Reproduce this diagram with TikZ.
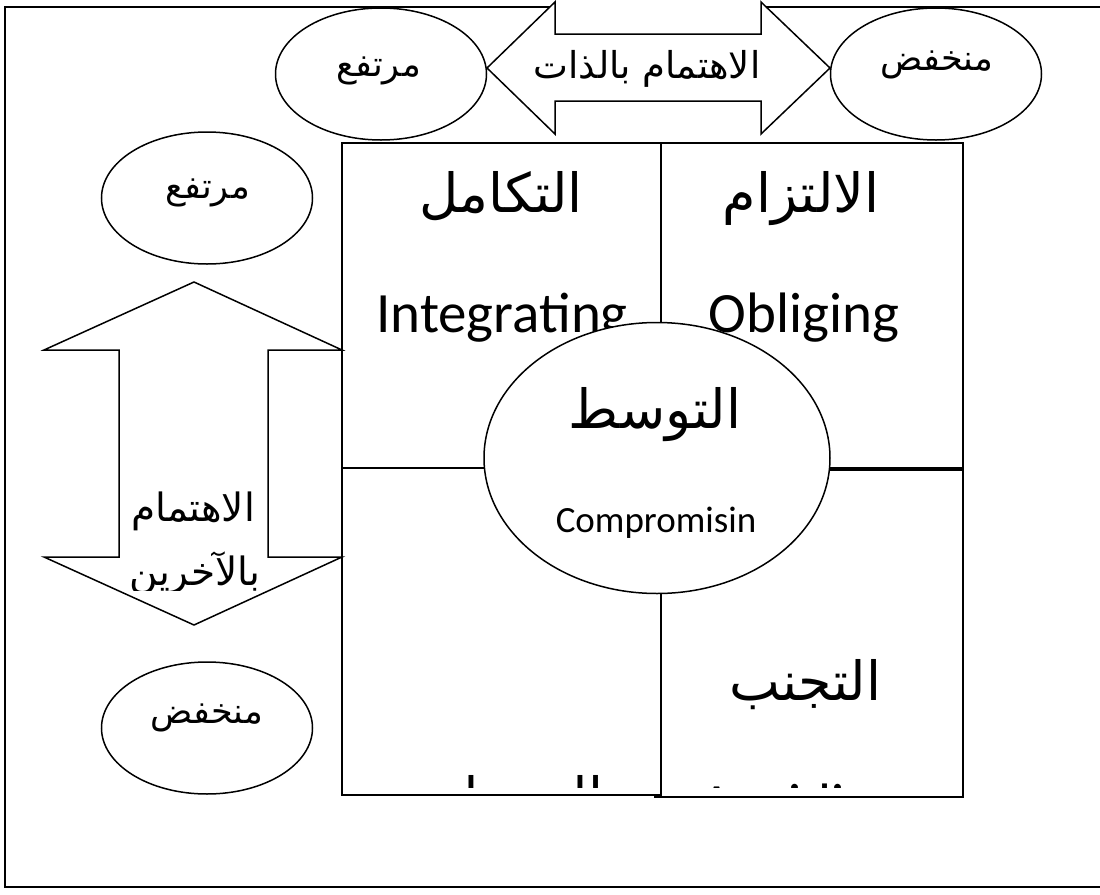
\documentclass[tikz,border=0pt]{standalone}
\usepackage{fontspec}
\newfontfamily\arabicfont[Script=Arabic]{DejaVu Sans}
\newfontfamily\engfont{Carlito}
\TeXXeTstate=1
\usetikzlibrary{shapes.geometric}
\tikzset{
  lbl/.style={inner sep=0pt, anchor=base},
  arsmall/.style={lbl, font=\arabicfont\fontsize{17.5}{20}\selectfont},
  arrowtext/.style={lbl, font=\arabicfont\fontsize{18.5}{22}\selectfont},
  sidetext/.style={lbl, font=\arabicfont\fontsize{19.5}{22}\selectfont},
  arbig/.style={lbl, font=\arabicfont\fontsize{27}{30}\selectfont},
  enbig/.style={lbl, font=\engfont\fontsize{28.5}{32}\selectfont},
  ensmall/.style={lbl, font=\engfont\fontsize{18.5}{22}\selectfont},
  oval/.style={draw, ellipse, line width=0.75pt, fill=white, inner sep=0pt,
               minimum width=105.5pt, minimum height=66pt},
  quad/.style={draw, line width=1pt},
  bigarrow/.style={draw, fill=white, line width=0.75pt, line join=miter},
  frame/.style={draw, line width=1pt}
}
\begin{document}
\begin{tikzpicture}[x=0.5pt, y=-0.5pt]
\useasboundingbox (0,0) rectangle (1100,895);
% outer frame (open on the right)
\draw[frame] (1110,7) -- (5,7) -- (5,887) -- (1110,887);
\fill[white] (555,0) rectangle (761,34);
% quadrants
\draw[quad] (342,143) rectangle (661,468);
\draw[quad] (661,143) rectangle (963,468);
\draw[quad] (342,468) rectangle (661,795);
\draw[quad] (661,470) -- (963,470) -- (963,797) -- (654,797);
\draw[quad] (661,470) -- (661,797);
% quadrant texts
\node[arbig] (tkamul) at (501,212) {\beginR التكامل\endR};
\node[arbig] (iltizam) at (801,212) {\beginR الالتزام\endR};
\node[enbig] (integ) at (502,332) {Integrating};
\node[enbig] (oblig) at (804,332) {Obliging};
\node[arbig] (tajannub) at (805,700) {\beginR التجنب\endR};
\begin{scope}
  \clip (342,0) rectangle (963,787);
  \node[arbig] (saytara) at (504,816) {\beginR السيطرة\endR};
  \node[enbig] (avoid) at (801,823) {Avoiding};
\end{scope}
% central compromise ellipse
\node[draw, ellipse, fill=white, line width=0.75pt, inner sep=0pt,
      minimum width=173pt, minimum height=135.5pt] (mid) at (657,458) {};
\node[arbig] (tawassut) at (655,428) {\beginR التوسط\endR};
\node[ensmall] (compr) at (656,532) {Compromisin};
% top double arrow
\draw[bigarrow] (487,68) -- (555,2) -- (555,34) -- (761,34) -- (761,2) -- (830,68)
   -- (761,134) -- (761,101) -- (555,101) -- (555,134) -- cycle;
\node[arrowtext] (self) at (647,78) {\beginR الاهتمام بالذات\endR};
% top ellipses
\node[oval] (highT) at (381,74) {};
\node[arsmall] (highTt) at (379,76) {\beginR مرتفع\endR};
\node[oval] (lowT) at (936,74) {};
\node[arsmall] (lowTt) at (937,70) {\beginR منخفض\endR};
% left ellipses
\node[oval] (highL) at (207,198) {};
\node[arsmall] (highLt) at (208,198) {\beginR مرتفع\endR};
\node[oval] (lowL) at (207,728) {};
\node[arsmall] (lowLt) at (207,723) {\beginR منخفض\endR};
% vertical double arrow
\draw[bigarrow] (194,282) -- (342,350) -- (268,350) -- (268,557) -- (342,557)
   -- (194,625) -- (44,557) -- (119,557) -- (119,350) -- (44,350) -- cycle;
\node[sidetext] (oth1) at (193,521) {\beginR الاهتمام\endR};
\begin{scope}
  \clip (0,0) rectangle (1100,590);
  \node[sidetext] (oth2) at (195,585) {\beginR بالآخرين\endR};
\end{scope}
\end{tikzpicture}
\end{document}
